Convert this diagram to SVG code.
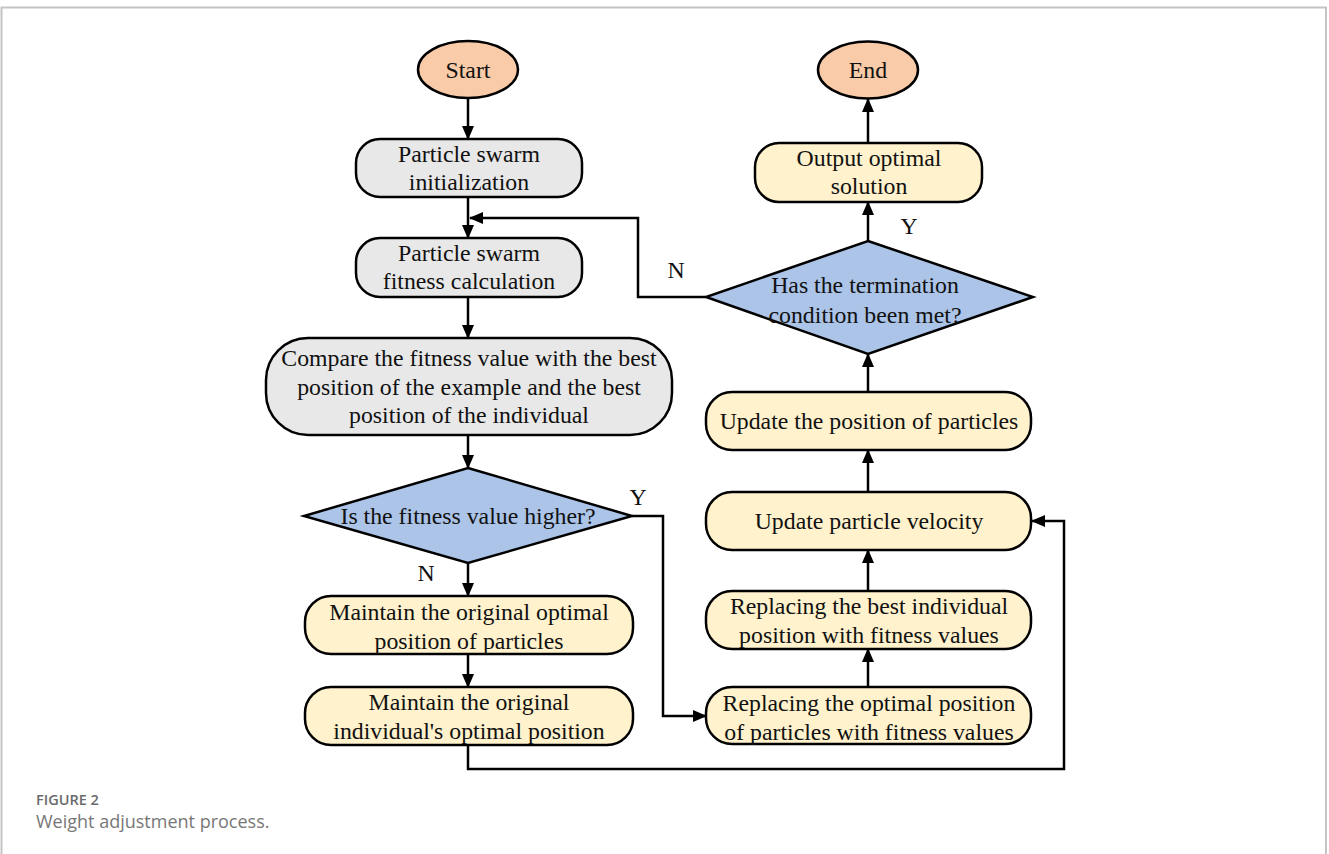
<svg xmlns="http://www.w3.org/2000/svg" width="1329" height="854" viewBox="0 0 1329 854">
<style>
.t{font-family:"Liberation Serif","Times New Roman",serif;font-size:23.8px;fill:#111;text-anchor:middle}
.lb{font-family:"Liberation Serif","Times New Roman",serif;font-size:23.8px;fill:#111;text-anchor:middle}
.term{fill:#F9CBA8;stroke:#000;stroke-width:2.5}
.gray{fill:#E8E8E8;stroke:#000;stroke-width:2.5}
.yel{fill:#FFF2CC;stroke:#000;stroke-width:2.5}
.dia{fill:#ABC4E8;stroke:#000;stroke-width:2.5}
.c{fill:none;stroke:#000;stroke-width:2.5;marker-end:url(#ah)}
.cap1{font-family:"Open Sans","Noto Sans",sans-serif;font-size:14.5px;font-weight:600;fill:#6a6a6a}
.cap2{font-family:"Open Sans","Noto Sans",sans-serif;font-size:18px;fill:#777}
</style>
<defs>
<marker id="ah" markerUnits="userSpaceOnUse" markerWidth="14" markerHeight="12" refX="13" refY="6" orient="auto">
<path d="M0,0 L14,6 L0,12 z" fill="#000"/>
</marker>
</defs>
<rect width="1329" height="854" fill="#fff"/>
<path d="M1.5,854 V7.5 H1326 V854" fill="none" stroke="#c4c4c4" stroke-width="2"/>

<g id="connectors">
<path class="c" d="M468,98 V139"/>
<path class="c" d="M468,197 V238"/>
<path class="c" d="M468,297 V338"/>
<path class="c" d="M468,435 V468"/>
<path class="c" d="M468,563 V596"/>
<path class="c" d="M468,654 V687"/>
<path class="c" d="M632,516 H663 V716 H706"/>
<path class="c" d="M468,745 V769 H1064 V521 H1032"/>
<path class="c" d="M706,297 H638 V218 H470"/>
<path class="c" d="M868,687 V649"/>
<path class="c" d="M868,591 V550"/>
<path class="c" d="M868,492 V450"/>
<path class="c" d="M868,392 V354"/>
<path class="c" d="M868,241 V202"/>
<path class="c" d="M868,143 V99"/>
<text class="lb" x="426" y="581">N</text>
<text class="lb" x="638" y="505">Y</text>
<text class="lb" x="676" y="278">N</text>
<text class="lb" x="909" y="234">Y</text>
</g>

<g id="start">
<ellipse class="term" cx="468" cy="69.5" rx="50" ry="28.5"/>
<text class="t" x="468" y="78">Start</text>
</g>
<g id="init">
<rect class="gray" x="356" y="139" width="226" height="58" rx="24"/>
<text class="t" x="469" y="162">Particle swarm</text>
<text class="t" x="469" y="190">initialization</text>
</g>
<g id="fitness">
<rect class="gray" x="356" y="238" width="226" height="59" rx="24"/>
<text class="t" x="469" y="261">Particle swarm</text>
<text class="t" x="469" y="289">fitness calculation</text>
</g>
<g id="compare">
<rect class="gray" x="266" y="338" width="406" height="97" rx="42"/>
<text class="t" x="469" y="366">Compare the fitness value with the best</text>
<text class="t" x="469" y="395">position of the example and the best</text>
<text class="t" x="469" y="423">position of the individual</text>
</g>
<g id="higher">
<polygon class="dia" points="468,468 632,516 468,563 304,516"/>
<text class="t" x="468" y="524">Is the fitness value higher?</text>
</g>
<g id="maintain1">
<rect class="yel" x="305" y="596" width="328" height="58" rx="26"/>
<text class="t" x="469" y="620">Maintain the original optimal</text>
<text class="t" x="469" y="649">position of particles</text>
</g>
<g id="maintain2">
<rect class="yel" x="305" y="687" width="328" height="58" rx="26"/>
<text class="t" x="469" y="710">Maintain the original</text>
<text class="t" x="469" y="739">individual's optimal position</text>
</g>
<g id="end">
<ellipse class="term" cx="868" cy="70" rx="50" ry="28.5"/>
<text class="t" x="868" y="78">End</text>
</g>
<g id="output">
<rect class="yel" x="755" y="143" width="227" height="59" rx="24"/>
<text class="t" x="869" y="166">Output optimal</text>
<text class="t" x="869" y="194">solution</text>
</g>
<g id="termination">
<polygon class="dia" points="868,241 1033,297 868,354 706,297"/>
<text class="t" x="865" y="293">Has the termination</text>
<text class="t" x="865" y="323">condition been met?</text>
</g>
<g id="updatepos">
<rect class="yel" x="706" y="392" width="325" height="58" rx="26"/>
<text class="t" x="869" y="429">Update the position of particles</text>
</g>
<g id="updatevel">
<rect class="yel" x="706" y="492" width="325" height="58" rx="26"/>
<text class="t" x="869" y="529">Update particle velocity</text>
</g>
<g id="replacebest">
<rect class="yel" x="706" y="591" width="325" height="58" rx="26"/>
<text class="t" x="869" y="614">Replacing the best individual</text>
<text class="t" x="869" y="643">position with fitness values</text>
</g>
<g id="replaceopt">
<rect class="yel" x="706" y="687" width="325" height="57" rx="26"/>
<text class="t" x="869" y="711">Replacing the optimal position</text>
<text class="t" x="869" y="740">of particles with fitness values</text>
</g>

<text class="cap1" x="36" y="805">FIGURE 2</text>
<text class="cap2" x="36" y="828">Weight adjustment process.</text>
</svg>
